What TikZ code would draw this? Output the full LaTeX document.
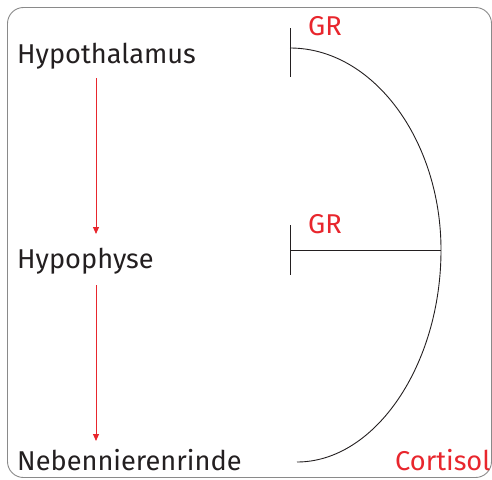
\documentclass[tikz,border=0pt]{standalone}
\usepackage{fontspec}
\setmainfont{Fira Sans}
\usetikzlibrary{arrows.meta}
\definecolor{hred}{HTML}{E8262D}
\definecolor{frameg}{HTML}{8A8A8A}
\definecolor{txt}{HTML}{231F20}
\begin{document}
\begin{tikzpicture}[x=1pt,y=-1pt,
  lbl/.style={anchor=base west,inner sep=0pt,font=\fontsize{27.2}{31}\selectfont,text=txt},
  rlbl/.style={lbl,text=hred},
  stim/.style={draw=hred,line width=1pt,-{Triangle[length=7pt,width=6pt]}},
  inhib/.style={draw=txt,line width=0.9pt}]
\useasboundingbox (0,0) rectangle (492,479);
\draw[frameg,line width=0.9pt,rounded corners=16pt] (7.5,7.5) rectangle (491.5,477.5);
\node[lbl] (hypo) at (17,63) {Hypothalamus};
\node[lbl] (hyph) at (17,268) {Hypophyse};
\node[lbl] (nnr) at (17,470) {Nebennierenrinde};
\node[rlbl] (gr1) at (308,35) {GR};
\node[rlbl] (gr2) at (308,233) {GR};
\node[rlbl] (cort) at (395,470) {Cortisol};
\coordinate (a1s) at (96,78);
\coordinate (a1e) at (96,234);
\coordinate (a2s) at (96,285);
\coordinate (a2e) at (96,441);
\draw[stim] (a1s) -- (a1e);
\draw[stim] (a2s) -- (a2e);
\coordinate (b1t) at (290,28);
\coordinate (b1b) at (290,77);
\coordinate (b2t) at (290,225);
\coordinate (b2b) at (290,275);
\coordinate (b2m) at (290,250);
\coordinate (ctop) at (290,48);
\coordinate (cright) at (441,250);
\coordinate (cbot) at (297,462);
\draw[inhib] (b1t) -- (b1b);
\draw[inhib] (b2t) -- (b2b);
\draw[inhib] (b2m) -- (cright);
\draw[inhib] (ctop) .. controls (373,48) and (441,140) .. (cright)
  .. controls (441,365) and (375,462) .. (cbot);
\end{tikzpicture}
\end{document}
